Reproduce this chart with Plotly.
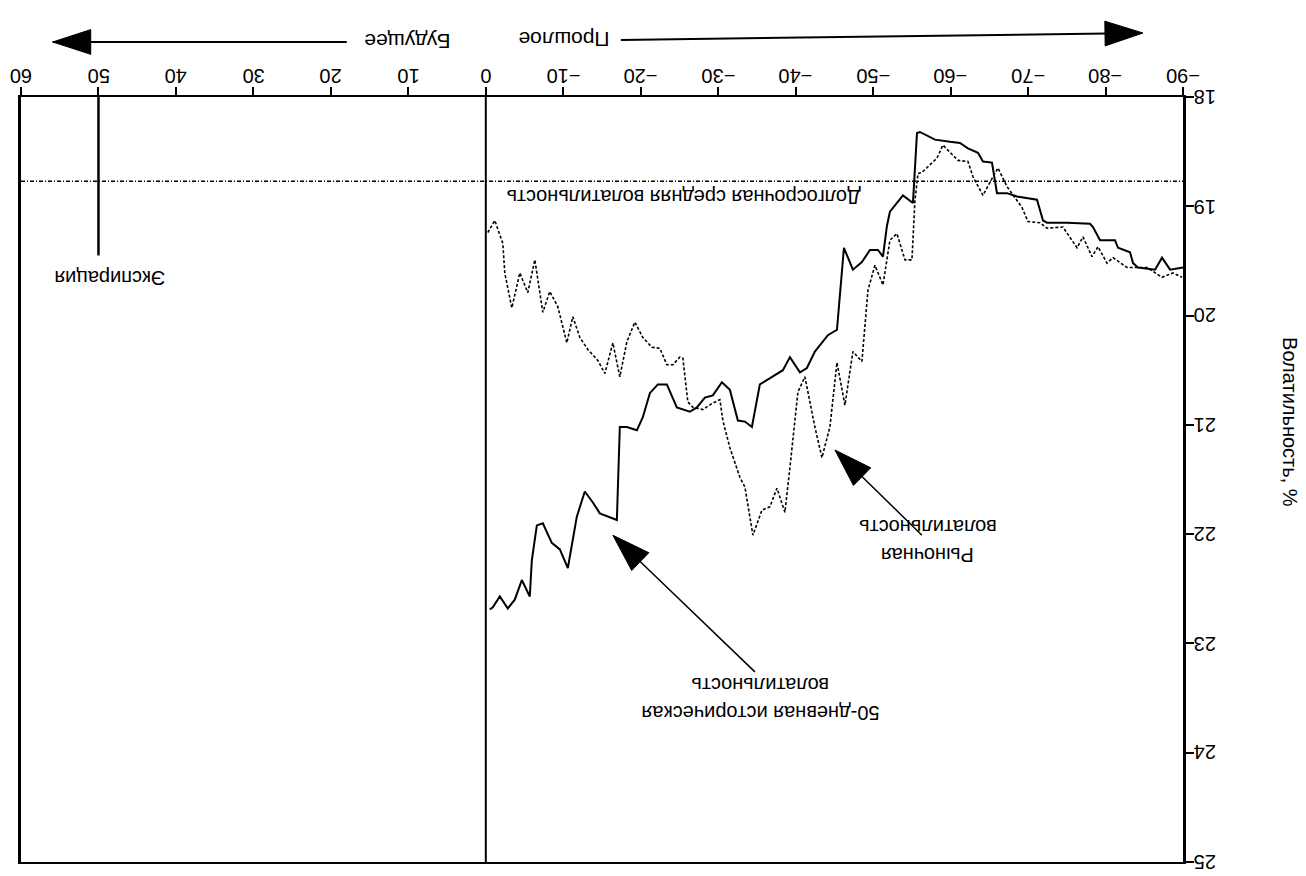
import plotly.graph_objects as go

# ---- data (days relative to today, volatility %) ----
hist_days = [-0.52, -0.90, -1.81, -2.84, -3.74, -4.65, -5.68, -5.94, -6.59, -7.36,
             -8.52, -9.56, -10.59, -11.75, -12.78, -13.82, -14.72, -16.92, -17.30, -18.21,
             -19.50, -20.27, -21.18, -22.21, -23.37, -24.66, -26.34, -27.25, -28.28, -29.31,
             -30.48, -31.51, -32.54, -33.45, -34.35, -35.38, -38.35, -39.26, -40.55, -41.45,
             -42.48, -43.39, -44.16, -45.33, -46.23, -47.39, -48.55, -49.59, -50.62, -51.27,
             -51.78, -52.17, -53.85, -55.14, -55.66, -56.04, -57.98, -59.92, -61.21, -62.24,
             -63.53, -64.18, -65.34, -65.99, -67.28, -68.57, -71.15, -71.93, -72.44, -75.03,
             -78.00, -78.38, -79.29, -81.22, -81.61, -83.16, -83.55, -84.19, -86.39, -87.29,
             -88.33, -90.00]
hist_vol = [22.69, 22.67, 22.57, 22.68, 22.60, 22.42, 22.57, 22.24, 21.92, 21.90,
            22.08, 22.14, 22.31, 21.84, 21.61, 21.71, 21.81, 21.87, 21.02, 21.02,
            21.05, 20.93, 20.71, 20.63, 20.63, 20.84, 20.88, 20.84, 20.75, 20.73,
            20.61, 20.68, 20.96, 20.97, 21.02, 20.63, 20.50, 20.38, 20.52, 20.48,
            20.33, 20.25, 20.18, 20.13, 19.38, 19.58, 19.51, 19.40, 19.40, 19.46,
            19.18, 19.05, 18.90, 18.97, 18.33, 18.32, 18.39, 18.41, 18.42, 18.47,
            18.51, 18.59, 18.60, 18.88, 18.88, 18.91, 18.94, 19.13, 19.15, 19.15,
            19.16, 19.19, 19.31, 19.31, 19.38, 19.42, 19.52, 19.56, 19.58, 19.47,
            19.58, 19.56]

mkt_days = [-0.26, -1.16, -2.20, -2.45, -3.36, -4.39, -5.42, -6.33, -7.36, -8.26,
            -9.30, -10.46, -11.23, -12.14, -13.17, -14.46, -15.37, -16.40, -17.30, -18.21,
            -19.24, -20.27, -21.44, -22.47, -23.37, -24.15, -25.05, -25.44, -26.08, -26.73,
            -28.02, -29.31, -30.22, -30.60, -31.51, -32.80, -33.45, -34.48, -35.64, -36.67,
            -37.58, -38.61, -39.26, -40.29, -41.19, -42.48, -43.39, -44.42, -45.33, -46.36,
            -47.39, -48.55, -49.33, -50.23, -51.27, -52.17, -53.07, -54.11, -55.01, -55.40,
            -55.79, -56.30, -58.24, -59.01, -60.95, -62.24, -62.89, -64.18, -65.47, -66.12,
            -67.28, -69.21, -69.99, -71.54, -72.44, -74.51, -76.32, -77.09, -78.25, -79.03,
            -80.19, -80.97, -82.77, -85.36, -87.29, -88.71, -89.88]
mkt_vol = [19.24, 19.13, 19.34, 19.61, 19.93, 19.61, 19.79, 19.49, 19.97, 19.78,
           19.92, 20.25, 20.01, 20.20, 20.31, 20.41, 20.53, 20.25, 20.56, 20.24,
           20.06, 20.20, 20.29, 20.30, 20.45, 20.45, 20.38, 20.39, 20.79, 20.84,
           20.86, 20.80, 20.77, 20.96, 21.21, 21.48, 21.57, 22.01, 21.78, 21.75,
           21.58, 21.80, 21.39, 20.70, 20.56, 21.02, 21.30, 21.02, 20.43, 20.82,
           20.33, 20.42, 19.77, 19.54, 19.72, 19.31, 19.25, 19.49, 19.49, 18.94,
           18.70, 18.69, 18.56, 18.44, 18.58, 18.59, 18.73, 18.90, 18.73, 18.65,
           18.82, 19.01, 19.14, 19.15, 19.20, 19.19, 19.38, 19.28, 19.46, 19.37,
           19.52, 19.47, 19.56, 19.56, 19.65, 19.61, 19.65]

x_ticks = list(range(-90, 61, 10))
y_ticks = list(range(18, 26))
x_range = [60, -90]
y_range = [25, 18]
long_term_avg = 18.77
expiry_day = 50
expiry_line_end = 19.45

label_lt = "Долгосрочная средняя волатильность"
label_exp = "Экспирация"
label_mkt = ["Рыночная", "волатильность"]
label_hist = ["50-дневная историческая", "волатильность"]
label_past = "Прошлое"
label_future = "Будущее"
y_title = "Волатильность, %"

BLACK = "black"
TXT = "Liberation Sans"

fig = go.Figure()

# long term average (dash-dot dotted)
fig.add_trace(go.Scatter(x=[x_range[0], x_range[1]], y=[long_term_avg, long_term_avg],
                         mode="lines", line=dict(color=BLACK, width=1.5, dash="4px,2px,1px,2px"),
                         hoverinfo="skip"))
# expiration marker line
fig.add_trace(go.Scatter(x=[expiry_day, expiry_day], y=[y_range[1], expiry_line_end],
                         mode="lines", line=dict(color=BLACK, width=2.5), hoverinfo="skip"))
# today line
fig.add_trace(go.Scatter(x=[0, 0], y=[y_range[1], y_range[0]],
                         mode="lines", line=dict(color=BLACK, width=2), hoverinfo="skip"))
# market (implied) volatility
fig.add_trace(go.Scatter(x=mkt_days, y=mkt_vol, mode="lines",
                         line=dict(color=BLACK, width=1.6, dash="3px,2px"), hoverinfo="skip"))
# 50-day historical volatility
fig.add_trace(go.Scatter(x=hist_days, y=hist_vol, mode="lines",
                         line=dict(color=BLACK, width=2), hoverinfo="skip"))


def arrow(xs, ys, xaxis="x", yaxis="y", size=40, width=1.5):
    fig.add_trace(go.Scatter(x=xs, y=ys, xaxis=xaxis, yaxis=yaxis, mode="lines+markers",
                             cliponaxis=False,
                             line=dict(color=BLACK, width=width),
                             marker=dict(symbol=["circle", "arrow"], size=[0, size], angleref="previous",
                                         color=BLACK, opacity=1, line=dict(width=1, color=BLACK)),
                             hoverinfo="skip"))


# pointer arrows (tail -> head)
arrow([-56.30, -45.07], [22.01, 21.23])
arrow([-34.74, -16.40], [23.26, 22.01])
# past / future arrows in the top strip (strip scale 0..1, bottom..top)
arrow([-17.43, -84.84], [0.536, 0.617], xaxis="x2", yaxis="y2", size=40, width=2)
arrow([17.95, 55.91], [0.513, 0.513], xaxis="x2", yaxis="y2", size=40, width=2)

PLOT_H = 862.0  # plot area height in px (margin t=0, b=14)


def py2paper(py):
    return (PLOT_H - py) / PLOT_H


ann = []


def txt(x, y, s, size=20, xref="x", yref="y", angle=180):
    ann.append(dict(x=x, y=y, xref=xref, yref=yref, text=s, showarrow=False, textangle=angle,
                    font=dict(family=TXT, size=size, color=BLACK), xanchor="center", yanchor="middle"))


txt(-25.57, 18.92, label_lt)
txt(48.55, 19.65, label_exp)
txt(-57.0, 22.19, label_mkt[0])
txt(-57.0, 21.93, label_mkt[1])
txt(-35.5, 23.63, label_hist[0])
txt(-35.4, 23.38, label_hist[1])
txt(-10.07, py2paper(40), label_past, size=21, yref="paper")
txt(10.07, py2paper(42), label_future, size=21, yref="paper")
txt(1.092, py2paper(422), y_title, size=20, xref="paper", yref="paper", angle=90)

# tick labels (upside down)
for v in x_ticks:
    txt(v, py2paper(76), str(v).replace("-", "\u2212"), size=20, yref="paper")
for v in y_ticks:
    txt(1.0185, v, str(v), size=20, xref="paper", yref="y")

main_top = py2paper(97)

fig.update_layout(
    width=1306, height=876,
    margin=dict(l=21, r=123, t=0, b=14),
    paper_bgcolor="white", plot_bgcolor="white",
    showlegend=False,
    annotations=ann,
    xaxis=dict(range=x_range, side="top", anchor="y", tickmode="array", tickvals=x_ticks,
               showticklabels=False,
               ticks="outside", ticklen=8, tickwidth=1.5, tickcolor=BLACK,
               showline=True, linecolor=BLACK, linewidth=1.5, mirror=True,
               showgrid=False, zeroline=False),
    yaxis=dict(range=y_range, side="right", domain=[0, main_top], tickmode="array", tickvals=y_ticks,
               showticklabels=False,
               ticks="outside", ticklen=8, tickwidth=1.5, tickcolor=BLACK,
               showline=True, linecolor=BLACK, linewidth=2.5, mirror=True,
               showgrid=False, zeroline=False),
    xaxis2=dict(range=x_range, anchor="y2", visible=False, showgrid=False, zeroline=False),
    yaxis2=dict(range=[0, 1], domain=[0.9, 1], anchor="x2", visible=False, showgrid=False, zeroline=False),
)

fig.write_html("out.html", config={"displayModeBar": False},
               post_script="document.body.style.margin='0';document.body.style.overflow='hidden';")
